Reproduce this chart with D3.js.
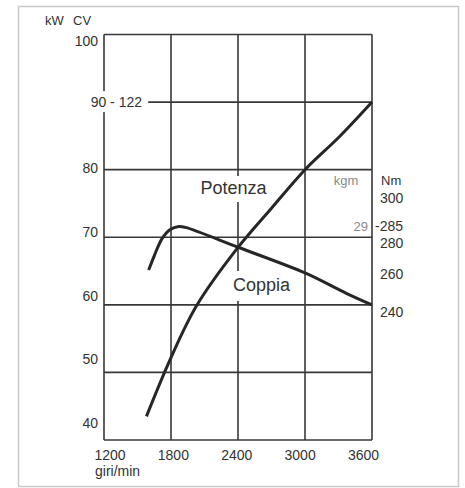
<!DOCTYPE html>
<head>
  <meta charset="utf-8">
  <title>Potenza e Coppia</title>
  <style>
    body { margin: 0; background: #fff; }
    svg text { font-family: "Liberation Sans", Arial, sans-serif; fill: #333; }
  </style>
  <script src="https://cdn.jsdelivr.net/npm/d3@7"></script>
</head>
<body>
<script>
  // values
  var rpmTicks = [1200, 1800, 2400, 3000, 3600];
  var kwTicks = [40, 50, 60, 70, 80, 90, 100];
  var kwTickLabels = ["40", "50", "60", "70", "80", "90 - 122", "100"];
  var nmTicks = [240, 260, 280, 300];

  var potenzaRpm = [1580, 1800, 2030, 2400, 2700, 3000, 3310, 3600];
  var potenzaKw  = [43.5, 52.2, 59.9, 68.5, 74.3, 80.0, 84.9, 90.0];

  var coppiaRpm = [1600, 1650, 1720, 1790, 1870, 1930, 2400, 3000, 3370, 3600];
  var coppiaNm  = [262.0, 269.5, 278.5, 283.2, 284.9, 284.4, 274.0, 260.5, 249.8, 243.7];

  var width = 465, height = 488;

  var svg = d3.select("body").append("svg")
      .attr("width", width)
      .attr("height", height);

  // outer frame
  svg.append("rect")
    .attr("x", 18.5).attr("y", 6.5)
    .attr("width", 440).attr("height", 480)
    .attr("fill", "none")
    .attr("stroke", "#c8c8c8")
    .attr("stroke-width", 1.5);

  var x = d3.scaleLinear().domain([1200, 3600]).range([104, 372]);
  var y = d3.scaleLinear().domain([40, 100]).range([440, 34.5]);
  // printed labels sit on slightly different spacing than the grid
  var xLab = d3.scaleLinear().domain([1200, 3600]).range([110, 363.5]);
  var yLab = d3.scaleLinear().domain([40, 100]).range([423, 41]);
  var nmY = d3.scaleLinear().domain([240, 300]).range([312, 197.7]);

  var grid = svg.append("g")
      .attr("stroke", "#383838")
      .attr("stroke-width", 1.6);

  grid.selectAll("line.v")
    .data(rpmTicks)
    .enter().append("line")
      .attr("class", "v")
      .attr("x1", d => x(d)).attr("x2", d => x(d))
      .attr("y1", y(100)).attr("y2", y(40));

  grid.selectAll("line.h")
    .data(kwTicks)
    .enter().append("line")
      .attr("class", "h")
      .attr("x1", x(1200)).attr("x2", x(3600))
      .attr("y1", d => y(d)).attr("y2", d => y(d));

  // curves
  var line = d3.line()
      .x(d => d[0])
      .y(d => d[1])
      .curve(d3.curveCatmullRom.alpha(0.5));

  var potenza = potenzaRpm.map((r, i) => [x(r), y(potenzaKw[i])]);
  var coppia = coppiaRpm.map((r, i) => [x(r), nmY(coppiaNm[i])]);

  svg.append("path")
    .attr("d", line(potenza))
    .attr("fill", "none")
    .attr("stroke", "#262626")
    .attr("stroke-width", 3);

  svg.append("path")
    .attr("d", line(coppia))
    .attr("fill", "none")
    .attr("stroke", "#262626")
    .attr("stroke-width", 3);

  // text with a white patch behind it (breaks the grid lines)
  function label(t, px, py, opts) {
    opts = opts || {};
    var g = svg.append("g");
    var txt = g.append("text")
      .attr("x", px).attr("y", py)
      .attr("text-anchor", opts.anchor || "start")
      .attr("font-size", (opts.size || 14) + "px")
      .text(t);
    if (opts.fill) txt.style("fill", opts.fill);
    if (opts.bg) {
      var b = txt.node().getBBox();
      var p = opts.bg;
      g.insert("rect", "text")
        .attr("x", b.x - p[0]).attr("y", b.y - p[1])
        .attr("width", b.width + p[0] + p[2])
        .attr("height", b.height + p[1] + p[3])
        .attr("fill", "#fff");
    }
    return txt;
  }

  // left axis labels
  kwTicks.forEach(function (v, i) {
    if (v === 90) {
      label(kwTickLabels[i], x(1200) + 38, y(90) + 5, {anchor: "end", bg: [2, 3, 6, 2]});
    } else {
      label(kwTickLabels[i], x(1200) - 6, yLab(v) + 5, {anchor: "end"});
    }
  });

  label("kW", 45, 25, {size: 13});
  label("CV", 73, 25, {size: 13});

  // bottom axis labels
  rpmTicks.forEach(function (v) {
    label(String(v), xLab(v), 460, {anchor: "middle"});
  });
  label("giri/min", 95, 476, {size: 14});

  // right axis (torque)
  label("kgm", x(3600) - 26, y(80) + 15, {anchor: "middle", size: 13, fill: "#8a8a8a"});
  label("Nm", x(3600) + 9, nmY(300) - 13, {size: 13});
  nmTicks.forEach(function (v) {
    var dy = v === 280 ? 7 : 0;
    label(String(v), x(3600) + 8, nmY(v) + 5 + dy);
  });
  label("29", x(3600) - 4, nmY(285) + 5, {anchor: "end", size: 13, fill: "#8a8a8a", bg: [1, 1, 3, 1]});
  label("-285", x(3600) + 3, nmY(285) + 5);

  // curve names
  label("Potenza", x(2400) - 4.5, 194, {anchor: "middle", size: 18, bg: [3, 2, 3, 4]});
  label("Coppia", x(2400) + 23.5, 291, {anchor: "middle", size: 18, bg: [3, 4, 3, 6]});
</script>
</body>
